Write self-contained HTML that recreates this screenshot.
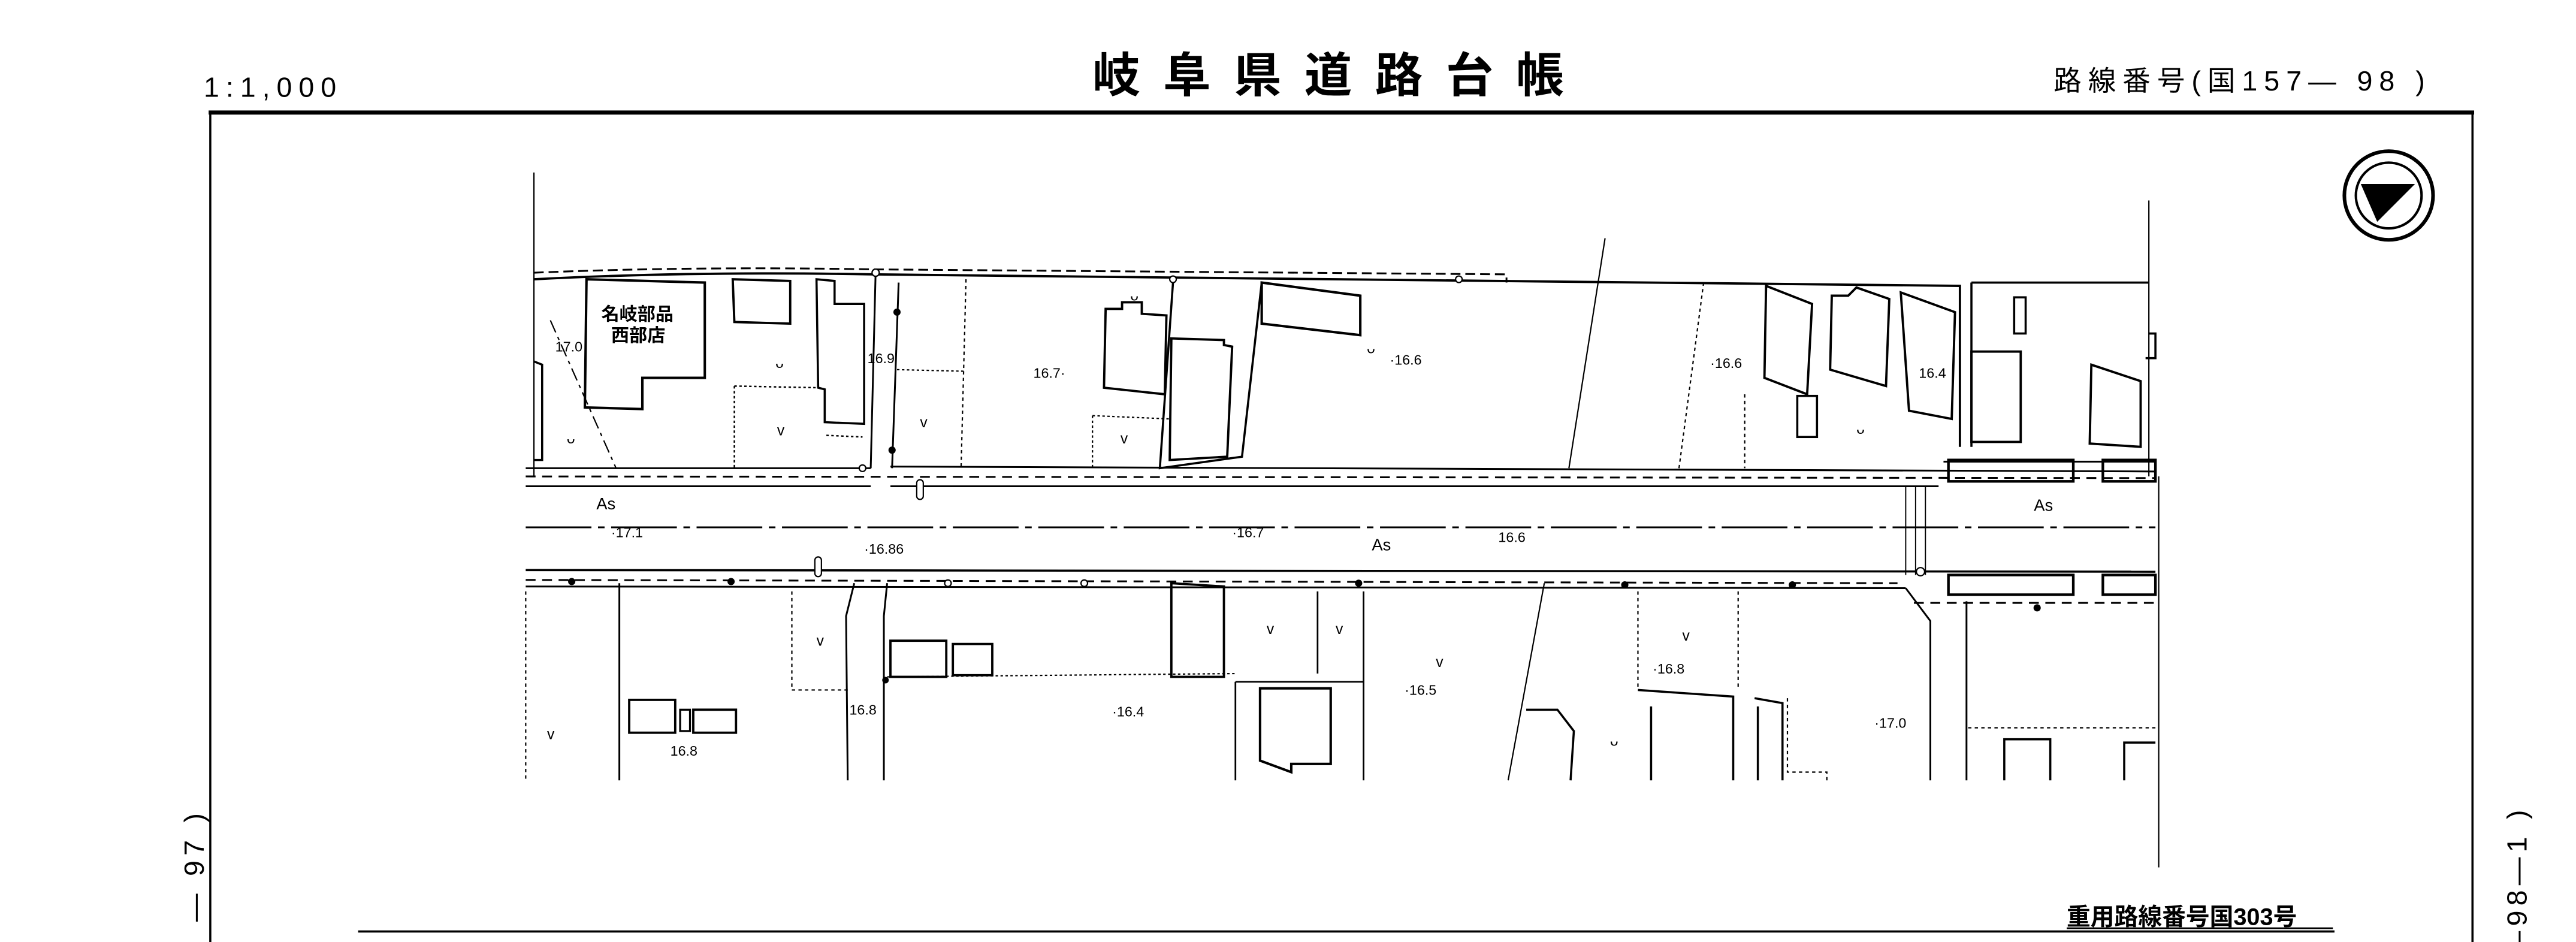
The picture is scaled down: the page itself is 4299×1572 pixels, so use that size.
<!DOCTYPE html>
<html><head><meta charset="utf-8"><style>
html,body{margin:0;padding:0;background:#fff;}
svg{display:block}
text{font-family:"Liberation Sans","Noto Sans CJK JP",sans-serif;fill:#000}
</style></head><body>
<svg width="4299" height="1572" viewBox="0 0 1568 573.4" preserveAspectRatio="none" xmlns="http://www.w3.org/2000/svg">
<rect width="1568" height="574" fill="#fff"/>
<!-- header -->
<text x="124" y="59" font-size="17" letter-spacing="4">1:1,000</text>
<text x="665" y="56" font-size="29" font-weight="bold" letter-spacing="14" font-family="Noto Sans CJK JP, sans-serif">岐阜県道路台帳</text>
<text x="1250" y="55" font-size="17" font-family="Noto Sans CJK JP, sans-serif" letter-spacing="4">路線番号(国157— 98 )</text>
<!-- frame -->
<g stroke="#000" fill="none">
<line x1="127" y1="68.5" x2="1506" y2="68.5" stroke-width="2.5"/>
<line x1="128" y1="68" x2="128" y2="574" stroke-width="1.3"/>
<line x1="1505" y1="68" x2="1505" y2="574" stroke-width="1.3"/>
<line x1="218" y1="567" x2="1421" y2="567" stroke-width="1.3"/>
<line x1="1258" y1="565" x2="1420" y2="565" stroke-width="1"/>
</g>
<text x="1258" y="563" font-size="14.5" font-weight="bold" font-family="Noto Sans CJK JP, sans-serif">重用路線番号国303号</text>
<text transform="translate(124,492) rotate(-90)" font-size="17" text-anchor="end" letter-spacing="3">— 97 )</text>
<text transform="translate(1538,490) rotate(-90)" font-size="17" text-anchor="end" letter-spacing="3">—98—1 )</text>
<!-- north arrow -->
<circle cx="1454" cy="119" r="27" fill="none" stroke="#000" stroke-width="2.2"/>
<circle cx="1454" cy="119" r="20" fill="none" stroke="#000" stroke-width="1.5"/>
<path d="M1437,112 L1470,112 L1447,135 Z" fill="#000"/>
<!-- map -->
<g stroke="#000" fill="none" stroke-width="1.1">
<line x1="325" y1="105" x2="325" y2="290" stroke-width="0.8"/>
<line x1="1308" y1="122" x2="1308" y2="290" stroke-width="0.8"/>
<line x1="1314" y1="290" x2="1314" y2="528" stroke-width="0.8"/>
<path d="M325,166 Q420,162 535,164 L917,167 L917,172" stroke-dasharray="6,3"/>
<path d="M325,170 Q420,165 530,167 L1193,174 L1193,272" stroke-width="1.4"/>
<line x1="320" y1="285" x2="530" y2="285"/>
<line x1="542" y1="284" x2="1312" y2="287"/>
<line x1="320" y1="290" x2="1312" y2="291" stroke-dasharray="6,4"/>
<line x1="320" y1="296" x2="530" y2="296"/>
<line x1="542" y1="296" x2="1180" y2="296"/>
<line x1="1183" y1="281" x2="1312" y2="281"/>
<rect x="1186" y="280" width="76" height="13" stroke-width="1.6"/>
<rect x="1280" y="280" width="32" height="13" stroke-width="1.6"/>
<line x1="320" y1="321" x2="1312" y2="321" stroke-dasharray="40,4,4,4"/>
<line x1="320" y1="347" x2="1312" y2="348" stroke-width="1.3"/>
<line x1="320" y1="353" x2="1155" y2="355" stroke-dasharray="6,4"/>
<line x1="320" y1="357" x2="1160" y2="358"/>
<rect x="1186" y="350" width="76" height="12" stroke-width="1.6"/>
<rect x="1280" y="350" width="32" height="12" stroke-width="1.6"/>
<line x1="1165" y1="367" x2="1312" y2="367" stroke-dasharray="6,4"/>
<path d="M1160,358 L1175,378 L1175,475"/>
<line x1="1197" y1="366" x2="1197" y2="475"/>
<line x1="1160" y1="296" x2="1160" y2="350" stroke-width="0.7"/>
<line x1="1166" y1="296" x2="1166" y2="350" stroke-width="0.7"/>
<line x1="1172" y1="296" x2="1172" y2="350" stroke-width="0.7"/>
<path d="M357,170 L429,172 L429,230 L391,230 L391,249 L356,248 Z" stroke-width="1.5"/>
<path d="M446,170 L481,171 L481,197 L447,196 Z" stroke-width="1.4"/>
<path d="M497,170 L508,171 L508,185 L526,185 L526,258 L502,257 L502,237 L498,236 Z" stroke-width="1.3"/>
<path d="M325,220 L330,222 L330,280 L325,280" stroke-width="1.3"/>
<path d="M335,195 L375,285" stroke-dasharray="8,3,2,3" stroke-width="0.8"/>
<path d="M447,235 L498,236 M447,235 L447,285 M503,265 L525,266" stroke-dasharray="1.5,1.5" stroke-width="0.9"/>
<line x1="533" y1="165" x2="530" y2="285"/>
<line x1="547" y1="172" x2="543" y2="285"/>
<line x1="588" y1="170" x2="585" y2="285" stroke-dasharray="2,2" stroke-width="0.8"/>
<line x1="546" y1="225" x2="588" y2="226" stroke-dasharray="1.5,1.5" stroke-width="0.8"/>
<path d="M673,188 L683,188 L683,184 L695,184 L695,191 L710,192 L709,240 L672,236 Z" stroke-width="1.4"/>
<path d="M714,172 L706,285 L756,278 L768,172" stroke-width="1.3"/>
<path d="M713,206 L745,207 L745,210 L750,211 L747,278 L712,280 Z" stroke-width="1.4"/>
<path d="M665,253 L712,255 M665,253 L665,285" stroke-dasharray="1.5,1.5" stroke-width="0.8"/>
<path d="M768,172 L828,180 L828,204 L768,197 Z" stroke-width="1.5"/>
<line x1="977" y1="145" x2="955" y2="285" stroke-width="0.8"/>
<line x1="1037" y1="172" x2="1022" y2="285" stroke-dasharray="2,2" stroke-width="0.8"/>
<path d="M1075,174 L1103,185 L1100,240 L1074,230 Z" stroke-width="1.4"/>
<path d="M1115,180 L1125,180 L1130,175 L1150,182 L1148,235 L1114,225 Z" stroke-width="1.4"/>
<path d="M1157,178 L1190,190 L1188,255 L1162,250 Z" stroke-width="1.4"/>
<rect x="1094" y="241" width="12" height="25" stroke-width="1.3"/>
<line x1="1062" y1="240" x2="1062" y2="285" stroke-dasharray="2,2" stroke-width="0.8"/>
<path d="M1200,172 L1308,172 M1200,172 L1200,272" stroke-width="1.3"/>
<rect x="1226" y="181" width="7" height="22" stroke-width="1.3"/>
<rect x="1200" y="214" width="30" height="55" stroke-width="1.4"/>
<path d="M1273,222 L1303,232 L1303,272 L1272,270 Z" stroke-width="1.4"/>
<path d="M1308,203 L1312,203 L1312,218 L1306,218" stroke-width="1.3"/>
<path d="M377,355 L377,475 M520,355 L515,375 L516,475 M540,355 L538,375 L538,475" />
<path d="M320,360 L320,475 M482,360 L482,420 L516,420" stroke-width="0.8" stroke-dasharray="2,2"/>
<rect x="383" y="426" width="28" height="20" stroke-width="1.4"/>
<rect x="414" y="432" width="6" height="13" stroke-width="1.2"/>
<rect x="422" y="432" width="26" height="14" stroke-width="1.4"/>
<rect x="542" y="390" width="34" height="22" stroke-width="1.4"/>
<rect x="580" y="392" width="24" height="19" stroke-width="1.4"/>
<path d="M540,412 L752,410" stroke-dasharray="1.5,1.5" stroke-width="0.8"/>
<path d="M713,355 L745,357 L745,412 L713,412 Z" stroke-width="1.4"/>
<path d="M752,415 L830,415 M752,415 L752,475 M830,360 L830,475 M802,360 L802,410" stroke-width="1"/>
<path d="M767,419 L810,419 L810,465 L786,465 L786,470 L767,463 Z" stroke-width="1.5"/>
<line x1="940" y1="355" x2="918" y2="475" stroke-width="0.8"/>
<path d="M929,432 L948,432 L958,445 L956,475" stroke-width="1.3"/>
<path d="M997,420 L1055,424 L1055,475 M1005,430 L1005,475 M1068,425 L1085,428 L1085,475 M1070,430 L1070,475" stroke-width="1.3"/>
<path d="M997,360 L997,420 M1058,360 L1058,420 M1088,425 L1088,470 L1112,470 L1112,475" stroke-dasharray="2,2" stroke-width="0.8"/>
<path d="M1198,443 L1312,443" stroke-dasharray="2,2" stroke-width="0.8"/>
<path d="M1220,475 L1220,450 L1248,450 L1248,475 M1293,475 L1293,452 L1312,452" stroke-width="1.3"/>
</g>
<g fill="#000">
<circle cx="348" cy="354" r="2.2"/><circle cx="445" cy="354" r="2.2"/><circle cx="827" cy="355" r="2.2"/>
<circle cx="989" cy="356" r="2.2"/><circle cx="1091" cy="356" r="2.2"/><circle cx="1240" cy="370" r="2.2"/>
<circle cx="546" cy="190" r="2.2"/><circle cx="543" cy="274" r="2.2"/><circle cx="539" cy="414" r="2"/>
</g>
<g fill="#fff" stroke="#000" stroke-width="0.8">
<circle cx="533" cy="166" r="2.2"/><circle cx="714" cy="170" r="2"/><circle cx="888" cy="170" r="2"/>
<circle cx="525" cy="285" r="2"/><circle cx="577" cy="355" r="2"/><circle cx="660" cy="355" r="2"/>
<circle cx="1169" cy="348" r="2.5"/>
<rect x="558" y="292" width="4" height="12" rx="2"/><rect x="496" y="339" width="4" height="12" rx="2"/>
</g>
<g font-size="8.5">
<text x="366" y="195" font-size="11" font-weight="bold" font-family="Noto Sans CJK JP, sans-serif">名岐部品</text>
<text x="372" y="208" font-size="11" font-weight="bold" font-family="Noto Sans CJK JP, sans-serif">西部店</text>
<text x="338" y="214">17.0</text><text x="528" y="221">16.9</text><text x="629" y="230">16.7·</text>
<text x="846" y="222">·16.6</text><text x="1041" y="224">·16.6</text><text x="1168" y="230">16.4</text>
<text x="363" y="310" font-size="10">As</text><text x="1238" y="311" font-size="10">As</text><text x="835" y="335" font-size="10">As</text>
<text x="372" y="327">·17.1</text><text x="750" y="327">·16.7</text><text x="912" y="330">16.6</text>
<text x="526" y="337">·16.86</text><text x="517" y="435">16.8</text><text x="677" y="436">·16.4</text>
<text x="855" y="423">·16.5</text><text x="1006" y="410">·16.8</text><text x="1141" y="443">·17.0</text>
<text x="408" y="460">16.8</text>
</g>
<g font-size="9">
<text x="345" y="270">ᴗ</text><text x="472" y="224">ᴗ</text><text x="832" y="215">ᴗ</text><text x="688" y="183">ᴗ</text>
<text x="1130" y="264">ᴗ</text><text x="980" y="454">ᴗ</text>
<text x="473" y="265">v</text><text x="560" y="260">v</text><text x="682" y="270">v</text><text x="497" y="393">v</text>
<text x="771" y="386">v</text><text x="813" y="386">v</text><text x="874" y="406">v</text><text x="1024" y="390">v</text><text x="333" y="450">v</text>
</g>
</svg>
</body></html>
